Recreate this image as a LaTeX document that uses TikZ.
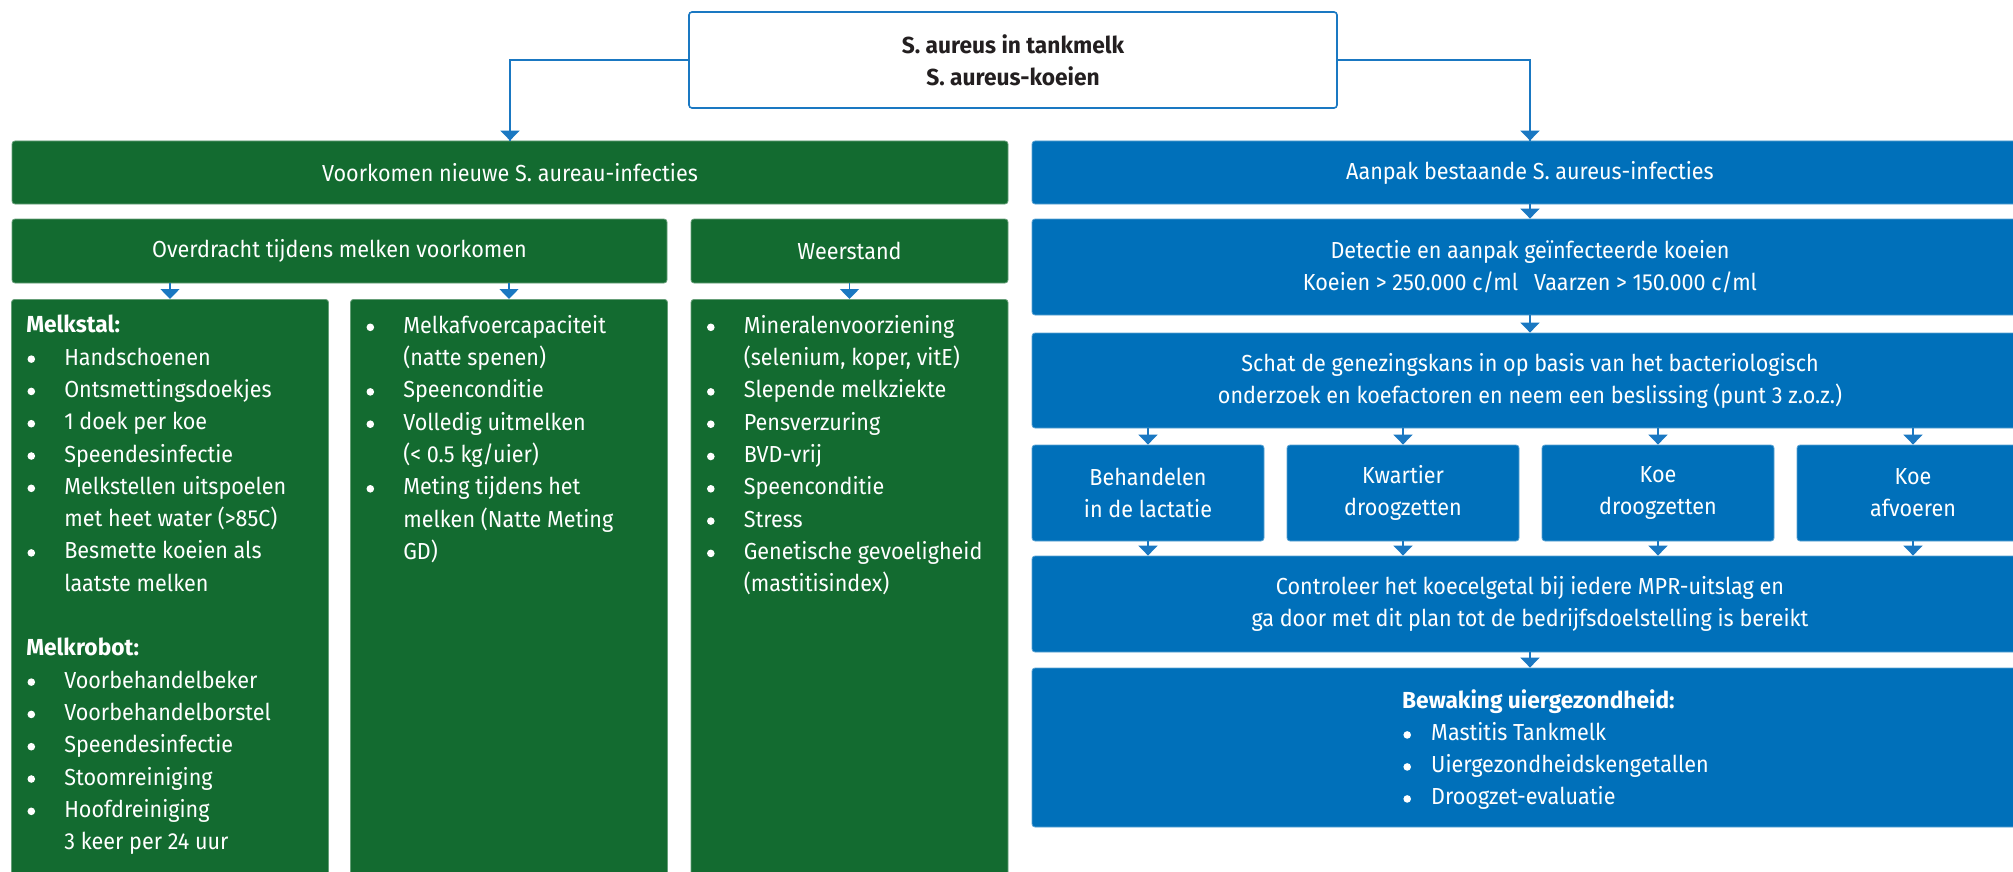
\documentclass[tikz,border=0pt]{standalone}
\usepackage{fontspec}
\setmainfont{Fira Sans}[FakeStretch=0.93,BoldFeatures={FakeStretch=0.98}]
\usetikzlibrary{arrows.meta}

\definecolor{melkgroen}{HTML}{136B30}
\definecolor{melkblauw}{HTML}{0070BA}
\definecolor{lijnblauw}{HTML}{1A78C2}
\definecolor{tekstgrijs}{HTML}{231F20}

\newcommand{\vakfont}{\fontsize{23.2}{32}\selectfont}
\newcommand{\lijstfont}{\fontsize{23.2}{32.3}\selectfont}
\newcommand{\stip}{\tikz[baseline=0pt]\fill[white] (0,6pt) circle (3.8pt);}
\newcommand{\bol}{\makebox[38pt][l]{\hspace{1.2pt}\stip}}
\newcommand{\inspr}{\hspace*{38pt}}
\newcommand{\kbol}{\makebox[29pt][l]{\hspace{1.2pt}\stip}}

\tikzstyle{kopvak}=[rectangle,rounded corners=3pt,fill=white,draw=lijnblauw,line width=1.6pt,text=tekstgrijs,inner sep=0pt,align=center,font=\vakfont\bfseries]
\tikzstyle{groenvak}=[rectangle,rounded corners=3pt,fill=melkgroen,draw=melkgroen!65!white,line width=0.8pt,text=white,inner sep=0pt,align=center,font=\vakfont]
\tikzstyle{blauwvak}=[rectangle,rounded corners=3pt,fill=melkblauw,draw=melkblauw!65!white,line width=0.8pt,text=white,inner sep=0pt,align=center,font=\vakfont]
\tikzstyle{lijst}=[text=white,align=left,inner sep=0pt,font=\lijstfont]
\tikzstyle{lijn}=[draw,line width=1.6pt,lijnblauw]
\tikzstyle{pijl}=[draw,line width=1.6pt,lijnblauw,-{Triangle[width=19pt,length=10pt]}]

\begin{document}
\begin{tikzpicture}[x=1pt,y=1pt]
\useasboundingbox (0,0) rectangle (2013,-872);

% kop
\node[kopvak,minimum width=648pt,minimum height=96pt] (tank) at (1013,-60)
  {S. aureus in tankmelk\\S. aureus-koeien};

% groene kolom
\node[groenvak,minimum width=996pt,minimum height=63pt] (nieuw) at (510,-172.5)
  {Voorkomen nieuwe S. aureau-infecties};
\node[groenvak,minimum width=655pt,minimum height=64pt] (overdr) at (339.5,-251)
  {Overdracht tijdens melken voorkomen};
\node[groenvak,minimum width=317pt,minimum height=64pt] (weerst) at (849.5,-251)
  {Weerstand};
\foreach \x/\name in {170/stal, 509/melk, 849.5/weer}{
  \node[groenvak,anchor=north,minimum width=317pt,minimum height=601pt] (\name) at (\x,-299) {};
}
\node[lijst,anchor=north west] (stallijst) at ([xshift=15pt,yshift=-16pt]stal.north west)
  {\textbf{Melkstal:}\\
   \bol Handschoenen\\
   \bol Ontsmettingsdoekjes\\
   \bol 1 doek per koe\\
   \bol Speendesinfectie\\
   \bol Melkstellen uitspoelen\\
   \inspr met heet water (>85C)\\
   \bol Besmette koeien als\\
   \inspr laatste melken\\[32.3pt]
   \textbf{Melkrobot:}\\
   \bol Voorbehandelbeker\\
   \bol Voorbehandelborstel\\
   \bol Speendesinfectie\\
   \bol Stoomreiniging\\
   \bol Hoofdreiniging\\
   \inspr 3 keer per 24 uur};
\node[lijst,anchor=north west] (melklijst) at ([xshift=15pt,yshift=-16pt]melk.north west)
  {\bol Melkafvoercapaciteit\\
   \inspr (natte spenen)\\
   \bol Speenconditie\\
   \bol Volledig uitmelken\\
   \inspr (< 0.5 kg/uier)\\
   \bol Meting tijdens het\\
   \inspr melken (Natte Meting\\
   \inspr GD)};
\node[lijst,anchor=north west] (weerlijst) at ([xshift=15pt,yshift=-16pt]weer.north west)
  {\bol Mineralenvoorziening\\
   \inspr (selenium, koper, vitE)\\
   \bol Slepende melkziekte\\
   \bol Pensverzuring\\
   \bol BVD-vrij\\
   \bol Speenconditie\\
   \bol Stress\\
   \bol Genetische gevoeligheid\\
   \inspr (mastitisindex)};

% blauwe kolom
\node[blauwvak,minimum width=996pt,minimum height=63pt] (aanpak) at (1530,-172.5)
  {Aanpak bestaande S. aureus-infecties};
\node[blauwvak,minimum width=996pt,minimum height=96pt] (detectie) at (1530,-267)
  {Detectie en aanpak geïnfecteerde koeien\\
   Koeien > 250.000 c/ml\hspace{16pt}Vaarzen > 150.000 c/ml};
\node[blauwvak,minimum width=996pt,minimum height=95pt] (schat) at (1530,-380.5)
  {Schat de genezingskans in op basis van het bacteriologisch\\
   onderzoek en koefactoren en neem een beslissing (punt 3 z.o.z.)};
\foreach \x/\name/\tekst in {1148/beh/{Behandelen\\in de lactatie},
                             1403/kwart/{Kwartier\\droogzetten},
                             1658/koedr/{Koe\\droogzetten},
                             1913/afv/{Koe\\afvoeren}}{
  \node[blauwvak,minimum width=232pt,minimum height=96pt] (\name) at (\x,-493) {\tekst};
}
\node[blauwvak,minimum width=996pt,minimum height=96pt] (contr) at (1530,-604)
  {Controleer het koecelgetal bij iedere MPR-uitslag en\\
   ga door met dit plan tot de bedrijfsdoelstelling is bereikt};
\node[blauwvak,minimum width=996pt,minimum height=159pt] (bewak) at (1530,-747.5) {};
\node[lijst,font=\vakfont,anchor=west] (bewaklijst) at (1402,-750)
  {\textbf{Bewaking uiergezondheid:}\\
   \kbol Mastitis Tankmelk\\
   \kbol Uiergezondheidskengetallen\\
   \kbol Droogzet-evaluatie};

% verbindingen
\path[lijn] (tank.west) -| (nieuw.north);
\path[lijn] (tank.east) -| (aanpak.north);
\path[pijl] (tank.west -| nieuw.north) -- (nieuw.north);
\path[pijl] (tank.east -| aanpak.north) -- (aanpak.north);
\foreach \name in {stal, melk}{
  \path[pijl] (\name.north |- overdr.south) -- (\name.north);
}
\path[pijl] (weerst.south) -- (weer.north);
\path[pijl] (aanpak.south) -- (detectie.north);
\path[pijl] (detectie.south) -- (schat.north);
\foreach \name in {beh, kwart, koedr, afv}{
  \path[pijl] (\name.north |- schat.south) -- (\name.north);
  \path[pijl] (\name.south) -- (\name.south |- contr.north);
}
\path[pijl] (contr.south) -- (bewak.north);
\end{tikzpicture}
\end{document}
